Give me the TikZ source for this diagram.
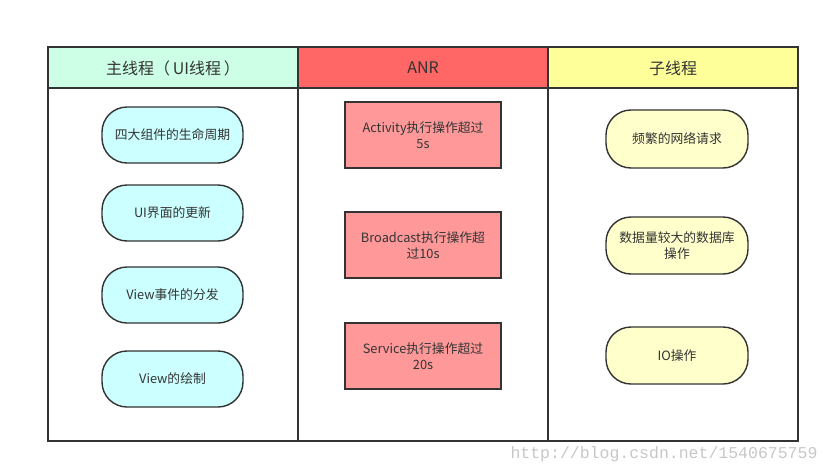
\documentclass[tikz,border=0pt]{standalone}
\usepackage{fontspec}
\setmainfont{Noto Sans CJK SC}
\newfontfamily\wmfont{Liberation Mono}
\definecolor{hdgreen}{HTML}{CCFFE6}
\definecolor{hdred}{HTML}{FF6666}
\definecolor{hdyellow}{HTML}{FFFF99}
\definecolor{ndcyan}{HTML}{CCFFFF}
\definecolor{ndred}{HTML}{FF9999}
\definecolor{ndyellow}{HTML}{FFFFCC}
\definecolor{ink}{HTML}{333333}
\begin{document}
\begin{tikzpicture}[x=1pt,y=-1pt,
  frame/.style={draw=ink,line width=1.6pt},
  hdtext/.style={text=ink,font=\fontsize{16}{19}\selectfont},
  pill/.style={draw=ink,line width=1.4pt,rounded corners=25pt},
  box/.style={draw=ink,line width=1.4pt,fill=ndred},
  lbl/.style={text=ink,font=\fontsize{12.8}{16}\selectfont,align=center,text width=150pt}
]
\useasboundingbox (0,0) rectangle (830,474);
% header fills
\fill[hdgreen] (48,47) rectangle (298,88);
\fill[hdred] (298,47) rectangle (548,88);
\fill[hdyellow] (548,47) rectangle (798,88);
% table frame
\draw[frame] (48,47) rectangle (798,441);
\draw[frame] (48,88) -- (798,88);
\draw[frame] (298,47) -- (298,441);
\draw[frame] (548,47) -- (548,441);
% headers
\node[hdtext] (h1) at (173,68) {主线程（\,UI线程\,）};
\node[hdtext] (h2) at (423,68) {ANR};
\node[hdtext] (h3) at (673,68) {子线程};
% left column
\draw[pill,fill=ndcyan] (102,107) rectangle (243,163);
\node[lbl] (l1) at (172.5,135) {四大组件的生命周期};
\draw[pill,fill=ndcyan] (102,185) rectangle (243,241);
\node[lbl] (l2) at (172.5,213) {UI界面的更新};
\draw[pill,fill=ndcyan] (102,267) rectangle (243,323);
\node[lbl] (l3) at (172.5,295) {View事件的分发};
\draw[pill,fill=ndcyan] (102,351) rectangle (243,407);
\node[lbl] (l4) at (172.5,379) {View的绘制};
% middle column
\draw[box] (345,102) rectangle (501,168);
\node[lbl] (m1) at (423,135) {Activity执行操作超过\\5s};
\draw[box] (345,212) rectangle (501,278);
\node[lbl] (m2) at (423,245) {Broadcast执行操作超\\过10s};
\draw[box] (345,323) rectangle (501,389);
\node[lbl] (m3) at (423,356) {Service执行操作超过\\20s};
% right column
\draw[pill,fill=ndyellow] (606,110) rectangle (748,168);
\node[lbl] (r1) at (677,139) {频繁的网络请求};
\draw[pill,fill=ndyellow] (606,217) rectangle (748,274);
\node[lbl] (r2) at (677,245.5) {数据量较大的数据库\\操作};
\draw[pill,fill=ndyellow] (606,327) rectangle (748,384);
\node[lbl] (r3) at (677,355.5) {IO操作};
% watermark
\node[text=black!22,font=\wmfont\fontsize{16.5}{18}\selectfont,anchor=center] (wm) at (664,454) {http://blog.csdn.net/1540675759};
\end{tikzpicture}
\end{document}
